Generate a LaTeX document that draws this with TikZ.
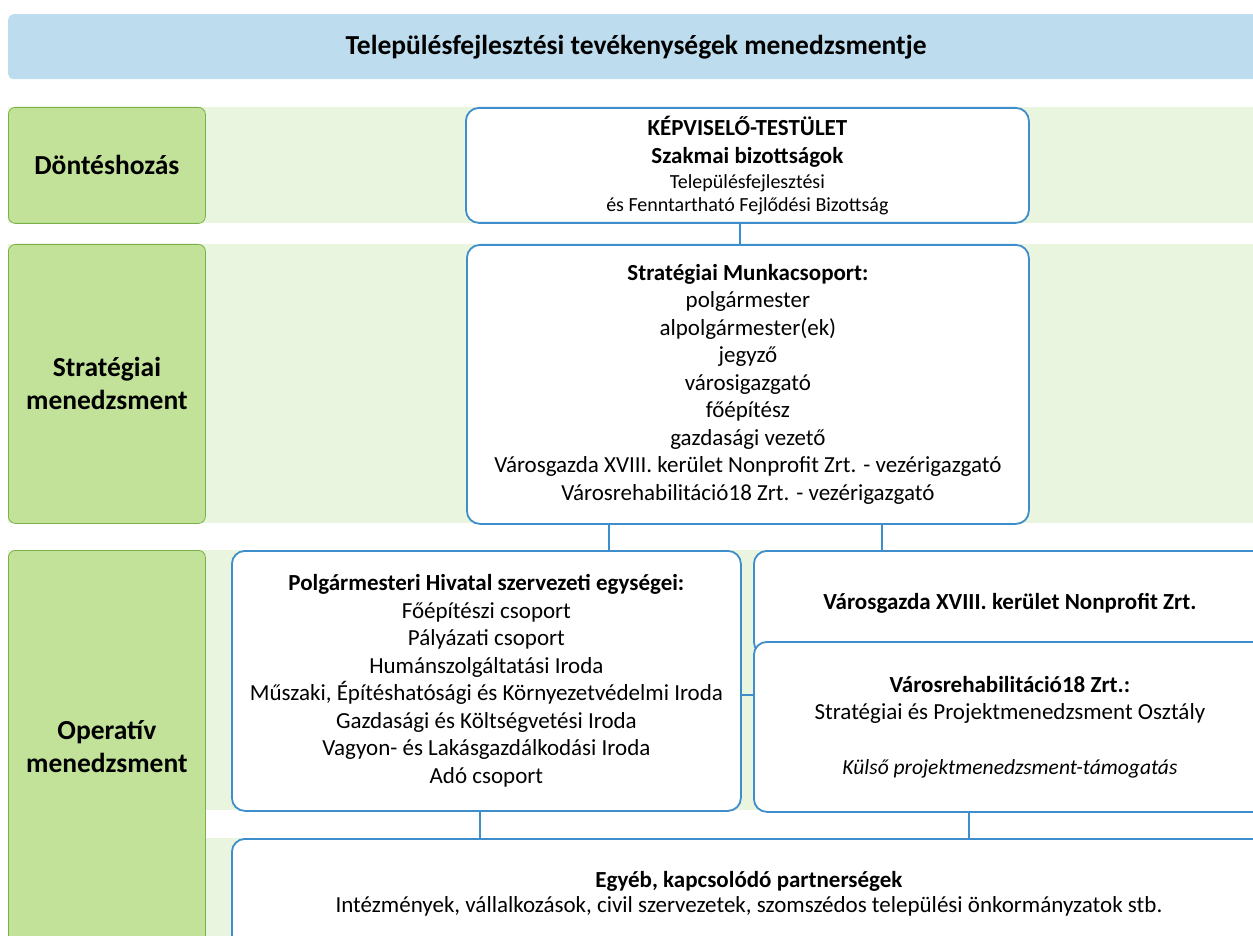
\documentclass[tikz,border=0pt]{standalone}
\usepackage{fontspec}
\setmainfont{Carlito}
\definecolor{titleblue}{RGB}{189,220,238}
\definecolor{bandgreen}{RGB}{233,245,222}
\definecolor{levelgreen}{RGB}{193,226,152}
\definecolor{leveledge}{RGB}{122,176,72}
\definecolor{unitblue}{RGB}{62,142,204}
\newcommand{\smalltxt}{\fontsize{20}{24}\selectfont}

\begin{document}
\begin{tikzpicture}[x=1pt,y=-1pt]
\tikzstyle{band}=[rectangle, fill=bandgreen, draw=none, inner sep=0pt, anchor=north west]
\tikzstyle{headbar}=[band, fill=titleblue, rounded corners=5pt, font=\fontsize{27.5}{30}\selectfont\bfseries]
\tikzstyle{level}=[rectangle, rounded corners=7pt, fill=levelgreen, draw=leveledge, line width=0.8pt, anchor=north west, minimum width=197pt, align=center, font=\fontsize{27.5}{33}\selectfont\bfseries]
\tikzstyle{unit}=[rectangle, rounded corners=13pt, fill=white, draw=unitblue, line width=1.8pt, anchor=north west, align=center, inner sep=0pt, font=\fontsize{23}{27.5}\selectfont]
\tikzstyle{connect}=[draw=unitblue, line width=1.8pt]

  \useasboundingbox (0,0) rectangle (1253,936);
  \clip (0,0) rectangle (1253,936);

  % title and background rows
  \node[headbar] (title) [minimum width=1256pt, minimum height=65pt] at (8,14) {Településfejlesztési tevékenységek menedzsmentje};
  \node[band] (row1) [minimum width=1250pt, minimum height=116pt] at (8,107) {};
  \node[band] (row2) [minimum width=1250pt, minimum height=279pt] at (8,244) {};
  \node[band] (row3) [minimum width=1250pt, minimum height=260pt] at (8,550) {};
  \node[band] (row4) [minimum width=1250pt, minimum height=110pt] at (8,838) {};

  % levels
  \node[level] (dontes)   [minimum height=116pt] at (8,107) {Döntéshozás};
  \node[level] (strat)    [minimum height=279pt] at (8,244) {Stratégiai\\menedzsment};
  \node[level] (operativ) [minimum height=393pt] at (8,550) {Operatív\\menedzsment};

  % units
  \node[unit] (kt) [minimum width=563pt, minimum height=115pt] at (465,107)
    {\textbf{KÉPVISELŐ-TESTÜLET}\\ \textbf{Szakmai bizottságok}\\[-2pt] {\smalltxt Településfejlesztési}\\[-5pt] {\smalltxt és Fenntartható Fejlődési Bizottság}};
  \node[unit] (sm) [minimum width=562pt, minimum height=279pt] at (466,244)
    {\textbf{Stratégiai Munkacsoport:}\\ polgármester\\ alpolgármester(ek)\\ jegyző\\ városigazgató\\ főépítész\\ gazdasági vezető\\ Városgazda XVIII. kerület Nonprofit Zrt. - vezérigazgató\\ Városrehabilitáció18 Zrt. - vezérigazgató};
  \node[unit] (ph) [minimum width=509pt, minimum height=260pt] at (231,550)
    {\textbf{Polgármesteri Hivatal szervezeti egységei:}\\ Főépítészi csoport\\ Pályázati csoport\\ Humánszolgáltatási Iroda\\ Műszaki, Építéshatósági és Környezetvédelmi Iroda\\ Gazdasági és Költségvetési Iroda\\ Vagyon- és Lakásgazdálkodási Iroda\\ Adó csoport};
  \node[unit] (vg) [minimum width=512pt, minimum height=104pt] at (753,550)
    {\textbf{Városgazda XVIII. kerület Nonprofit Zrt.}};
  \node[unit] (vr) [minimum width=512pt, minimum height=170pt] at (753,641)
    {\textbf{Városrehabilitáció18 Zrt.:}\\ Stratégiai és Projektmenedzsment Osztály\\[27pt] {\fontsize{21.5}{24}\selectfont\itshape Külső projektmenedzsment-támogatás}};
  \node[unit] (eb) [minimum width=1034pt, minimum height=110pt] at (231,838)
    {\textbf{Egyéb, kapcsolódó partnerségek}\\[-2pt] Intézmények, vállalkozások, civil szervezetek, szomszédos települési önkormányzatok stb.};

  % connections
  \draw[connect] (740,0 |- kt.south) -- (740,0 |- sm.north);
  \draw[connect] (609,0 |- sm.south) -- (609,0 |- ph.north);
  \draw[connect] (882,0 |- sm.south) -- (882,0 |- vg.north);
  \draw[connect] (ph.east |- 0,695) -- (vr.west |- 0,695);
  \draw[connect] (480,0 |- ph.south) -- (480,0 |- eb.north);
  \draw[connect] (969,0 |- vr.south) -- (969,0 |- eb.north);

\end{tikzpicture}
\end{document}
